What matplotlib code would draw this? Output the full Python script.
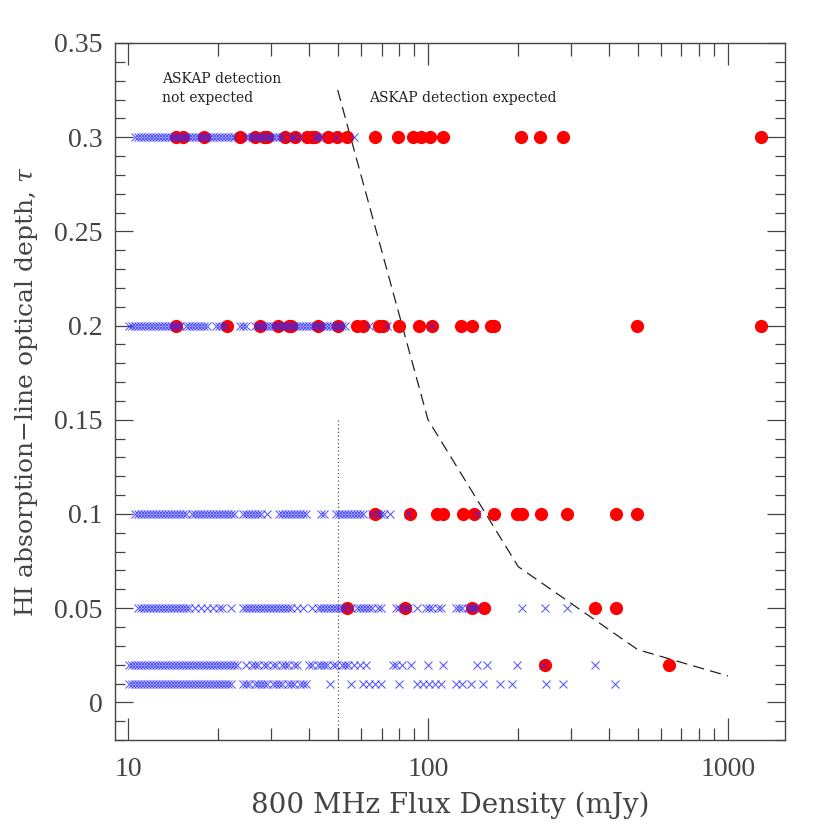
import matplotlib
matplotlib.use("Agg")
import matplotlib.pyplot as plt
from matplotlib.ticker import FixedLocator, FixedFormatter, NullFormatter

plt.rcParams['font.family'] = ['Liberation Serif', 'DejaVu Serif']
plt.rcParams['mathtext.fontset'] = 'dejavuserif'

# ---------------- data ----------------
# blue crosses (all sources), tau level -> 800 MHz flux (mJy)
cross_030 = [10.55, 10.80, 11.05, 11.31, 11.57, 11.84, 12.12, 12.40, 12.69, 12.98, 13.29, 13.59,
             13.91, 14.24, 14.57, 14.91, 15.25, 15.61, 15.97, 16.34, 16.72, 17.11, 17.51, 17.92,
             18.34, 18.76, 19.20, 19.65, 20.11, 20.57, 21.05, 21.54, 22.04, 22.56,
             24.73, 25.31, 25.90, 26.50, 27.12, 27.75, 28.40, 29.06, 29.74, 30.43, 31.14, 31.86, 32.61,
             34.94, 35.75, 37.44, 42.01, 42.99, 43.99, 49.36, 56.67]
cross_020 = [10.08, 10.31, 10.55, 10.80, 11.05, 11.31, 11.57, 11.84, 12.12, 12.40, 12.69, 12.98,
             13.29, 13.59, 13.91, 14.24, 14.57, 14.91, 15.61, 15.97, 16.34, 16.72, 17.11, 17.51,
             17.92, 18.34, 19.65, 20.11, 20.57, 21.05, 23.62, 24.17, 24.73,
             26.50, 27.12, 27.75, 28.40, 29.06, 29.74, 30.43, 31.14, 31.86, 32.61, 33.37, 34.14,
             34.94, 35.75, 36.59, 37.44, 38.31, 39.20, 40.12, 41.05, 42.01, 42.99, 43.99, 45.01,
             46.06, 47.14, 48.23, 49.36, 50.51, 51.68, 52.89, 63.59, 73.02, 103.2]
cross_010 = [10.55, 10.80, 11.05, 11.31, 11.57, 11.84, 12.12, 12.40, 12.69, 12.98, 13.29, 13.59,
             13.91, 14.24, 14.57, 14.91, 15.25, 15.61,
             16.34, 16.72, 17.11, 17.51, 17.92, 18.34, 18.76, 19.20, 19.65, 20.11, 20.57, 21.05,
             21.54, 22.04, 22.56,
             24.17, 24.73, 25.31, 25.90, 26.50, 27.12, 27.75, 29.06,
             31.86, 32.61, 33.37, 34.14, 34.94, 35.75, 36.59, 37.44, 38.31, 39.20, 43.99, 45.01,
             49.36, 50.51, 51.68, 52.89, 54.12, 55.38, 56.67, 57.99, 59.34, 60.72,
             65.07, 68.14, 69.73, 71.36, 74.73, 85.81, 145.9]
cross_005 = [10.80, 11.05, 11.31, 11.57, 11.84, 12.12, 12.40, 12.69, 12.98, 13.29, 13.59, 13.91,
             14.24, 14.57, 14.91, 15.25, 15.61, 15.97, 16.72, 17.51, 18.34, 19.20, 20.11, 20.57,
             22.04, 24.17, 24.73, 25.31, 25.90, 26.50, 27.12, 27.75, 28.40, 29.06, 29.74, 30.43,
             31.14, 31.86, 32.61, 33.37, 34.14, 34.94, 36.59, 38.31,
             41.05, 42.99, 43.99, 45.01, 46.06, 47.14, 48.23, 49.36, 50.51, 51.68, 52.89,
             55.38, 57.99, 59.34, 60.72, 62.14, 63.59, 65.07, 68.14, 69.73,
             78.25, 80.08, 83.86, 85.81, 91.96, 98.54, 100.8, 103.2, 108.1, 110.6,
             124.1, 127.0, 130.0, 136.1, 139.3, 142.6, 145.9, 205.7, 245.5, 290.6]
cross_002 = [10.08, 10.31, 10.55, 10.80, 11.05, 11.31, 11.57, 11.84, 12.12, 12.40, 12.69, 12.98,
             13.29, 13.59, 13.91, 14.24, 14.57, 14.91, 15.25, 15.61, 15.97, 16.34, 16.72, 17.11,
             17.51, 17.92, 18.34, 18.76, 19.20, 19.65, 20.11, 20.57, 21.05, 21.54, 22.04, 22.56, 23.08,
             24.73, 25.90, 26.50, 27.12, 28.40, 29.06, 30.43, 31.14, 32.61, 33.37, 34.14, 35.75, 36.59,
             40.12, 41.05, 42.99, 43.99, 45.01, 46.06, 48.23, 49.36, 51.68, 52.89,
             54.12, 56.67, 59.34, 62.14, 76.47, 78.25, 81.95, 87.82, 100.0, 112.5,
             145.9, 157.5, 198.0, 241.6, 360.0]
cross_001 = [10.08, 10.31, 10.55, 10.80, 11.05, 11.31, 11.57, 11.84, 12.12, 12.40, 12.69, 12.98,
             13.29, 13.59, 13.91, 14.24, 14.57, 14.91, 15.25, 15.61, 15.97, 16.34, 16.72, 17.11,
             17.51, 17.92, 18.34, 18.76, 19.20, 19.65, 20.11, 20.57, 21.05, 21.54, 22.04,
             24.17, 24.73, 25.31, 26.50, 27.12, 27.75, 28.40, 29.06, 30.43, 31.14, 31.86, 32.61,
             34.14, 34.94, 35.75, 37.44, 38.31, 39.20, 47.14, 55.38, 60.72, 63.59, 66.59, 69.73,
             80.08, 91.96, 96.30, 100.8, 105.6, 110.6, 124.1, 130.0, 139.3, 152.8, 173.8, 190.5,
             247.4, 281.8, 420.2]

# red filled circles
red_030 = [14.5, 15.3, 17.9, 23.7, 26.5, 28.3, 29.0, 33.4, 36.0, 39.4, 41.0, 42.0, 46.5, 49.6,
           53.6, 66.6, 79.6, 88.9, 94.8, 101.6, 112.5, 205, 237, 283, 1294]
red_020 = [14.5, 21.3, 27.5, 31.7, 34.3, 34.9, 43.1, 50.0, 57.8, 60.9, 68.7, 70.9, 80.0, 93.2,
           103.2, 129.3, 140.3, 161.6, 166.0, 496, 1294]
red_010 = [66.6, 87.0, 106.8, 112.3, 131.3, 142.6, 166, 197.8, 205.2, 237.7, 290, 424, 496]
red_005 = [53.6, 83.6, 140.3, 153.8, 361, 424]
red_002 = [246, 637]

# detection limit curve
limit_flux = [50, 100, 200, 500, 1000]
limit_tau = [0.325, 0.15, 0.072, 0.028, 0.014]

# cut at 50 mJy
cut_flux = 50
cut_tau_top = 0.15

x_ticks = [10, 100, 1000]
x_ticklabels = ['10', '100', '1000']
y_ticks = [0, 0.05, 0.1, 0.15, 0.2, 0.25, 0.3, 0.35]
y_ticklabels = ['0', '0.05', '0.1', '0.15', '0.2', '0.25', '0.3', '0.35']

# ---------------- plot ----------------
fig = plt.figure(figsize=(8.3, 8.3), dpi=100)
ax = fig.add_axes([0.1386, 0.1084, 0.8072, 0.8398])

red_sets = [(red_030, 0.3), (red_020, 0.2), (red_010, 0.1), (red_005, 0.05), (red_002, 0.02)]
for xs, t in red_sets:
    ax.plot(xs, [t] * len(xs), 'o', color='#ff0000', markersize=9.5, markeredgewidth=0, zorder=3)

cross_sets = [(cross_030, 0.3), (cross_020, 0.2), (cross_010, 0.1), (cross_005, 0.05),
              (cross_002, 0.02), (cross_001, 0.01)]
for xs, t in cross_sets:
    ax.plot(xs, [t] * len(xs), 'x', color='#2a2aff', markersize=5.5, markeredgewidth=0.75,
            alpha=0.8, zorder=4)

ax.plot(limit_flux, limit_tau, color='#222222', lw=0.9, dashes=(9, 5), zorder=2)
ax.plot([cut_flux, cut_flux], [-0.02, cut_tau_top], color='#555555', lw=0.9, ls=(0, (1, 2)), zorder=2)

ax.set_xscale('log')
ax.set_xlim(9.05, 1550)
ax.set_ylim(-0.02, 0.35)

ax.xaxis.set_major_locator(FixedLocator(x_ticks))
ax.xaxis.set_major_formatter(FixedFormatter(x_ticklabels))
minor_x = [9] + list(range(20, 100, 10)) + list(range(200, 1000, 100))
ax.xaxis.set_minor_locator(FixedLocator(minor_x))
ax.xaxis.set_minor_formatter(NullFormatter())
ax.yaxis.set_major_locator(FixedLocator(y_ticks))
ax.yaxis.set_major_formatter(FixedFormatter(y_ticklabels))
ax.yaxis.set_minor_locator(FixedLocator([i / 100 for i in range(-2, 36)]))

edge = '#444444'
for s in ax.spines.values():
    s.set_color(edge)
    s.set_linewidth(1.0)
ax.tick_params(which='both', direction='in', top=True, right=True, color=edge, width=0.9,
               labelcolor='#444444', labelsize=20)
ax.tick_params(axis='y', which='major', length=13, pad=9)
ax.tick_params(axis='y', which='minor', length=7)
ax.tick_params(axis='x', which='major', length=16, pad=12)
ax.tick_params(axis='x', which='minor', length=9)

ax.set_xlabel('800 MHz Flux Density (mJy)', fontsize=20, family='DejaVu Serif',
              color='#444444', labelpad=7)
ax.set_ylabel('HI absorption\u2212line optical depth, $\\tau$', fontsize=18,
              family='DejaVu Serif', color='#444444', labelpad=10)

ax.text(13.0, 0.331, 'ASKAP detection', fontsize=10, family='DejaVu Serif', color='#222222',
        va='center', ha='left')
ax.text(13.0, 0.321, 'not expected', fontsize=10, family='DejaVu Serif', color='#222222',
        va='center', ha='left')
ax.text(63.6, 0.321, 'ASKAP detection expected', fontsize=10, family='DejaVu Serif',
        color='#222222', va='center', ha='left')

fig.savefig('out.png', dpi=100)
